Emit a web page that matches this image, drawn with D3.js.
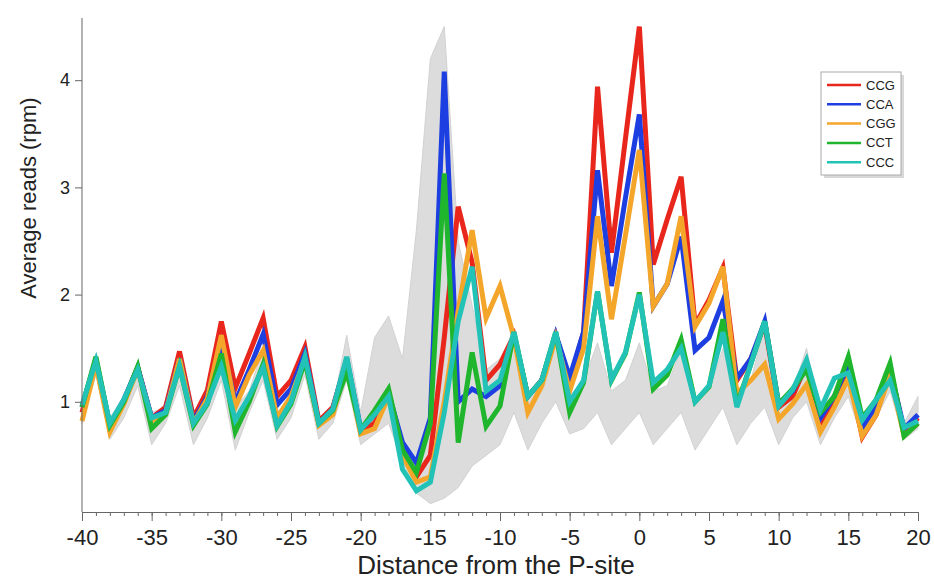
<!DOCTYPE html>
<html lang="en">
  <head>
    <meta charset="UTF-8" />
    <title>Average reads around the P-site</title>
    <script src="https://d3js.org/d3.v7.min.js"></script>
    <style>
      body {
        margin: 0;
        background: #fff;
        font-family: "Liberation Sans", Arial, sans-serif;
      }
      .axis path,
      .axis line {
        stroke: #666;
      }
      .axis text {
        fill: #222;
      }
    </style>
  </head>
  <body>
    <svg id="chart" width="934" height="579"></svg>

    <script>
      // positions -40 .. 20
      const positions = d3.range(-40, 21);

      const codons = ["CCG", "CCA", "CGG", "CCT", "CCC"];
      const colors = ["#e8261c", "#1d3ee0", "#f4a62a", "#1fb52d", "#22c3b6"];

      // values, one per position
      const ccg = [0.9, 1.38, 0.75, 1.0, 1.32, 0.85, 0.95, 1.47, 0.85, 1.11,
        1.75, 1.13, 1.45, 1.78, 1.05, 1.2, 1.51, 0.82, 0.95, 1.38,
        0.72, 0.8, 1.05, 0.55, 0.3, 0.5, 1.6, 2.82, 2.3, 1.2,
        1.35, 1.62, 1.05, 1.2, 1.62, 1.2, 1.65, 3.94, 2.39, 3.45,
        4.5, 2.28, 2.7, 3.1, 1.72, 1.95, 2.25, 1.2, 1.4, 1.72,
        0.95, 1.05, 1.35, 0.78, 1.0, 1.3, 0.67, 0.88, 1.3, 0.72, 0.85];
      const cca = [0.95, 1.4, 0.78, 1.02, 1.32, 0.85, 0.92, 1.4, 0.82, 1.05,
        1.55, 1.0, 1.3, 1.63, 0.97, 1.12, 1.45, 0.8, 0.93, 1.4,
        0.75, 0.88, 1.08, 0.62, 0.43, 0.85, 4.08, 1.0, 1.12, 1.05,
        1.15, 1.62, 1.05, 1.2, 1.63, 1.23, 1.65, 3.16, 2.08, 2.9,
        3.68, 1.89, 2.1, 2.54, 1.48, 1.6, 1.94, 1.22, 1.4, 1.75,
        0.98, 1.1, 1.35, 0.85, 1.05, 1.35, 0.75, 0.95, 1.3, 0.75, 0.88];
      const cgg = [0.82, 1.35, 0.72, 0.98, 1.3, 0.82, 0.9, 1.4, 0.8, 1.03,
        1.62, 0.95, 1.25, 1.48, 0.85, 1.05, 1.4, 0.78, 0.88, 1.35,
        0.7, 0.75, 1.05, 0.5, 0.25, 0.3, 1.0, 1.85, 2.6, 1.78,
        2.08, 1.6, 0.9, 1.15, 1.6, 1.1, 1.5, 2.73, 1.77, 2.55,
        3.35, 1.89, 2.1, 2.73, 1.7, 1.92, 2.26, 1.08, 1.2, 1.35,
        0.84, 0.98, 1.16, 0.72, 0.95, 1.22, 0.68, 0.88, 1.25, 0.68, 0.8];
      const cct = [0.95, 1.42, 0.78, 1.0, 1.33, 0.75, 0.88, 1.33, 0.78, 0.98,
        1.45, 0.72, 1.0, 1.35, 0.77, 0.98, 1.38, 0.8, 0.92, 1.28,
        0.74, 0.92, 1.12, 0.55, 0.34, 0.8, 3.13, 0.62, 1.46, 0.77,
        0.96, 1.65, 1.05, 1.2, 1.65, 0.9, 1.18, 2.03, 1.2, 1.45,
        2.02, 1.12, 1.25, 1.58, 1.0, 1.14, 1.77, 0.97, 1.35, 1.75,
        0.98, 1.12, 1.3, 0.9, 1.05, 1.42, 0.85, 1.02, 1.36, 0.68, 0.8];
      const ccc = [0.97, 1.38, 0.8, 1.02, 1.3, 0.85, 0.9, 1.33, 0.8, 0.99,
        1.33, 0.83, 1.05, 1.32, 0.78, 1.0, 1.42, 0.8, 0.93, 1.42,
        0.74, 0.88, 1.05, 0.37, 0.17, 0.25, 0.9, 1.75, 2.26, 1.1,
        1.2, 1.65, 1.05, 1.2, 1.65, 1.0, 1.2, 2.03, 1.21, 1.46,
        2.0, 1.18, 1.3, 1.5, 1.0, 1.15, 1.65, 0.95, 1.35, 1.75,
        0.96, 1.11, 1.39, 0.93, 1.22, 1.27, 0.83, 1.02, 1.2, 0.76, 0.82];

      // spread of the other codons (grey band): upper and lower edge
      const greyHigh = [1.0, 1.45, 0.85, 1.05, 1.38, 0.9, 0.95, 1.45, 0.85, 1.05,
        1.55, 0.95, 1.1, 1.5, 0.9, 1.05, 1.45, 0.85, 0.95, 1.62,
        0.9, 1.6, 1.8, 1.4, 2.6, 4.2, 4.5, 2.5, 1.9, 1.3,
        1.4, 1.65, 1.05, 1.25, 1.65, 1.05, 1.2, 1.55, 1.1, 1.2,
        1.55, 1.1, 1.15, 1.5, 1.0, 1.1, 1.5, 0.95, 1.2, 1.7,
        0.95, 1.1, 1.5, 0.9, 1.1, 1.45, 0.85, 1.0, 1.3, 0.8, 1.05];
      const greyLow = [0.8, 1.25, 0.65, 0.85, 1.15, 0.6, 0.8, 1.15, 0.6, 0.85,
        1.2, 0.55, 0.9, 1.2, 0.65, 0.85, 1.25, 0.65, 0.8, 1.2,
        0.6, 0.7, 0.8, 0.45, 0.15, 0.05, 0.1, 0.2, 0.4, 0.5,
        0.6, 0.9, 0.55, 0.8, 1.0, 0.7, 0.75, 0.9, 0.6, 0.75,
        0.9, 0.6, 0.75, 0.9, 0.55, 0.75, 0.95, 0.6, 0.8, 0.95,
        0.6, 0.85, 1.0, 0.6, 0.85, 1.05, 0.65, 0.85, 1.1, 0.65, 0.75];

      const seriesValues = [ccg, cca, cgg, cct, ccc];
      const yTicks = [1, 2, 3, 4];
      const xTicks = [-40, -35, -30, -25, -20, -15, -10, -5, 0, 5, 10, 15, 20];

      const svg = d3.select("#chart");
      const margin = { top: 18, left: 82, right: 16, bottom: 70 };
      const width = 934 - margin.left - margin.right,
        height = 579 - margin.top - margin.bottom;

      const x = d3.scaleLinear().domain([-40, 20]).range([0, width]);
      const y = d3.scaleLinear().domain([0, 4.58]).range([height, 0]);

      const g = svg
        .append("g")
        .attr("transform", `translate(${margin.left},${margin.top})`);

      // grey band of the remaining codons
      const band = d3
        .area()
        .x((d, i) => x(positions[i]))
        .y0((d, i) => y(greyLow[i]))
        .y1((d) => y(d));
      g.append("path")
        .datum(greyHigh)
        .attr("d", band)
        .attr("fill", "#dcdcdc")
        .attr("stroke", "#d2d2d2")
        .attr("stroke-width", 1);

      const line = d3
        .line()
        .x((d, i) => x(positions[i]))
        .y((d) => y(d));

      seriesValues.forEach((vals, k) => {
        g.append("path")
          .datum(vals)
          .attr("d", line)
          .attr("fill", "none")
          .attr("stroke", colors[k])
          .attr("stroke-width", 5)
          .attr("stroke-linejoin", "miter");
      });

      // axes
      const xAxisG = g
        .append("g")
        .attr("class", "axis")
        .attr("transform", `translate(0,${height + 3})`);
      xAxisG
        .call(
          d3.axisBottom(x).tickValues(positions).tickSize(4).tickFormat("")
        )
        .select(".domain")
        .remove();
      xAxisG
        .append("g")
        .call(
          d3.axisBottom(x).tickValues(xTicks).tickSize(9).tickFormat((d) => d)
        )
        .call((s) =>
          s
            .selectAll("text")
            .attr("dy", "0.95em")
            .style("font-family", "'Liberation Sans Narrow', 'Liberation Sans', sans-serif")
            .style("font-size", "22px")
        );

      const yAxisG = g.append("g").attr("class", "axis");
      yAxisG
        .call(
          d3
            .axisLeft(y)
            .tickValues(yTicks)
            .tickSize(7)
            .tickSizeOuter(0)
            .tickFormat(d3.format("d"))
        )
        .call((s) =>
          s
            .selectAll("text")
            .attr("x", -12)
            .style("font-family", "'Liberation Sans', sans-serif")
            .style("font-size", "18px")
        );
      yAxisG.select(".domain").attr("d", `M0,${height + 3}V0`);

      // axis titles
      svg
        .append("text")
        .attr("x", 496)
        .attr("y", 574)
        .attr("text-anchor", "middle")
        .style("font-family", "'Liberation Sans', sans-serif")
        .style("font-size", "26px")
        .style("fill", "#222")
        .text("Distance from the P-site");

      svg
        .append("text")
        .attr("transform", `translate(36,${margin.top + y(2.9)}) rotate(-90)`)
        .attr("text-anchor", "middle")
        .style("font-family", "'Liberation Sans', sans-serif")
        .style("font-size", "22px")
        .style("fill", "#222")
        .text("Average reads (rpm)");

      // legend
      const legend = svg.append("g").attr("transform", "translate(821,72)");
      legend
        .append("rect")
        .attr("x", 3)
        .attr("y", 3)
        .attr("width", 80)
        .attr("height", 103)
        .attr("fill", "#d8d8d8");
      legend
        .append("rect")
        .attr("width", 80)
        .attr("height", 103)
        .attr("fill", "#fff")
        .attr("stroke", "#aaa");
      codons.forEach((c, k) => {
        const row = legend
          .append("g")
          .attr("transform", `translate(0,${13 + k * 19.3})`);
        row
          .append("line")
          .attr("x1", 6)
          .attr("x2", 40)
          .attr("stroke", colors[k])
          .attr("stroke-width", 2.5);
        row
          .append("text")
          .attr("x", 45)
          .attr("dy", "0.35em")
          .style("font-family", "'Liberation Sans Narrow', 'Liberation Sans', sans-serif")
          .style("font-size", "13px")
          .style("fill", "#222")
          .text(c);
      });
    </script>
  </body>
</html>
